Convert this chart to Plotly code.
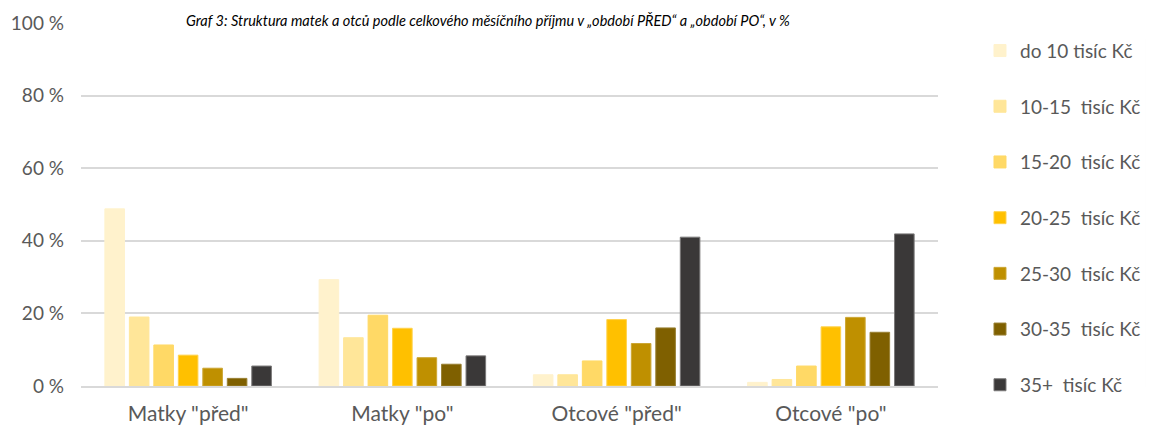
import plotly.graph_objects as go

categories = ['Matky "před"', 'Matky "po"', 'Otcové "před"', 'Otcové "po"']
series_names = ["do 10 tisíc Kč", "10-15  tisíc Kč", "15-20  tisíc Kč", "20-25  tisíc Kč",
                "25-30  tisíc Kč", "30-35  tisíc Kč", "35+  tisíc Kč"]
do10 = [48.8, 29.3, 3.1, 1.0]
s10_15 = [19.0, 13.3, 3.1, 1.8]
s15_20 = [11.3, 19.5, 6.9, 5.5]
s20_25 = [8.5, 15.9, 18.3, 16.3]
s25_30 = [4.9, 7.8, 11.7, 18.9]
s30_35 = [2.1, 6.0, 16.0, 14.8]
s35p = [5.5, 8.3, 41.0, 41.9]
colors = ["#FFF2CC", "#FFE699", "#FFD966", "#FFC000", "#BF9000", "#7F6000", "#3A3838"]
line_colors = ["#FFF2CC", "#FFE699", "#FFD966", "#FFD24D", "#CCA633", "#998033", "#7A7878"]
tick_vals = [0, 20, 40, 60, 80, 100]
tick_text = ["0 %", "20 %", "40 %", "60 %", "80 %", "100 %"]
title_text = "Graf 3: Struktura matek a otců podle celkového měsíčního příjmu v „období PŘED“ a „období PO“, v %"

all_series = [do10, s10_15, s15_20, s20_25, s25_30, s30_35, s35p]

FONT = "Lato"
fig = go.Figure()
for i, (name, vals) in enumerate(zip(series_names, all_series)):
    fig.add_trace(go.Bar(
        x=categories, y=vals, name=name, legendgroup=f"g{i}",
        marker=dict(color=colors[i], line=dict(color=line_colors[i], width=1)),
    ))

fig.update_layout(
    width=1154, height=428,
    margin=dict(l=73, r=224, t=15, b=50, autoexpand=False),
    paper_bgcolor="white", plot_bgcolor="white",
    barmode="group", bargap=0.2, bargroupgap=0.2,
    font=dict(family=FONT, color="#595959", size=19),
    legend=dict(
        x=1.049, y=0.476, xanchor="left", yanchor="middle",
        traceorder="grouped", tracegroupgap=28,
        font=dict(family=FONT, size=19, color="#595959"),
        itemwidth=30,
    ),
    xaxis=dict(showgrid=False, showline=True, linecolor="#D9D9D9", linewidth=1.5,
               tickfont=dict(size=21, color="#595959"), ticks="", ticklabelstandoff=8),
    yaxis=dict(range=[0, 100], tickvals=tick_vals, ticktext=tick_text,
               showgrid=True, gridcolor="#D9D9D9", gridwidth=1.5,
               zeroline=False, showline=False, ticks="",
               tickfont=dict(size=19, color="#595959"), ticklabelstandoff=16),
    annotations=[dict(
        text=title_text, xref="paper", yref="paper", x=0.475, y=1.036,
        xanchor="center", yanchor="top", showarrow=False,
        font=dict(family=FONT, size=14.5, color="#000000", style="italic"),
    )],
)

fig.write_html("out.html")
